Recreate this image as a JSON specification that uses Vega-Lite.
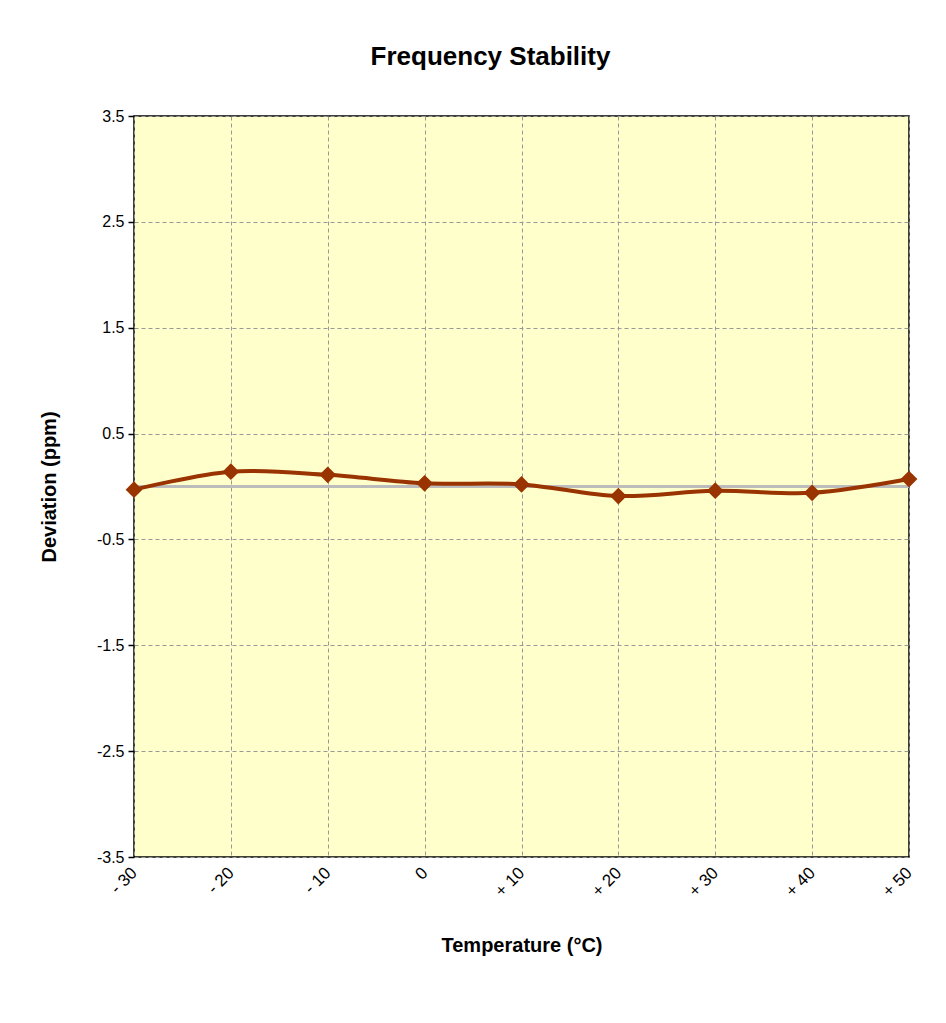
{
  "$schema": "https://vega.github.io/schema/vega-lite/v6.json",
  "autosize": "none",
  "width": 775,
  "height": 741,
  "padding": {"left": 134, "top": 116, "right": 37, "bottom": 166},
  "background": "#ffffff",
  "title": {
    "text": "Frequency Stability",
    "font": "Liberation Sans",
    "fontSize": 26,
    "fontWeight": "bold",
    "color": "#000000",
    "anchor": "middle",
    "dx": -31,
    "offset": 38
  },
  "config": {
    "view": {"fill": "#FFFFCC", "stroke": "#000000", "strokeWidth": 1.5},
    "font": "Liberation Sans"
  },
  "data": {
    "values": [
      {"temp": "- 30", "dev": -0.03},
      {"temp": "- 20", "dev": 0.14},
      {"temp": "- 10", "dev": 0.11},
      {"temp": "0", "dev": 0.03},
      {"temp": "+ 10", "dev": 0.02},
      {"temp": "+ 20", "dev": -0.09},
      {"temp": "+ 30", "dev": -0.04},
      {"temp": "+ 40", "dev": -0.06},
      {"temp": "+ 50", "dev": 0.07}
    ]
  },
  "encoding": {
    "x": {
      "field": "temp",
      "type": "ordinal",
      "sort": null,
      "scale": {"type": "point", "padding": 0},
      "axis": {
        "title": "Temperature (°C)",
        "titleFont": "Liberation Sans",
        "titleFontSize": 20,
        "titleFontWeight": "bold",
        "titleColor": "#000000",
        "titlePadding": 36,
        "labelFont": "Liberation Sans",
        "labelFontSize": 17,
        "labelColor": "#000000",
        "labelAngle": -45,
        "labelAlign": "right",
        "labelBaseline": "middle",
        "labelPadding": 13,
        "ticks": false,
        "domain": false,
        "grid": true,
        "gridColor": "#999999",
        "gridDash": [4, 3],
        "gridWidth": 1
      }
    },
    "y": {
      "field": "dev",
      "type": "quantitative",
      "scale": {"domain": [-3.5, 3.5], "nice": false, "zero": false},
      "axis": {
        "title": "Deviation (ppm)",
        "titleFont": "Liberation Sans",
        "titleFontSize": 20,
        "titleFontWeight": "bold",
        "titleColor": "#000000",
        "titlePadding": 37,
        "values": [-3.5, -2.5, -1.5, -0.5, 0.5, 1.5, 2.5, 3.5],
        "labelExpr": "replace(format(datum.value, '.1f'), '\u2212', '-')",
        "labelFont": "Liberation Sans",
        "labelFontSize": 16,
        "labelColor": "#000000",
        "labelPadding": 4,
        "tickColor": "#000000",
        "tickSize": 6,
        "tickWidth": 1.5,
        "domain": false,
        "grid": true,
        "gridColor": "#999999",
        "gridDash": [4, 3],
        "gridWidth": 1
      }
    }
  },
  "layer": [
    {
      "mark": {"type": "rule", "color": "#bbbbbb", "strokeWidth": 2},
      "encoding": {"x": null, "y": {"datum": 0}}
    },
    {
      "mark": {"type": "line", "color": "#993300", "strokeWidth": 4, "interpolate": "catmull-rom"}
    },
    {
      "mark": {"type": "point", "shape": "diamond", "filled": true, "color": "#993300", "size": 280, "opacity": 1}
    }
  ]
}
